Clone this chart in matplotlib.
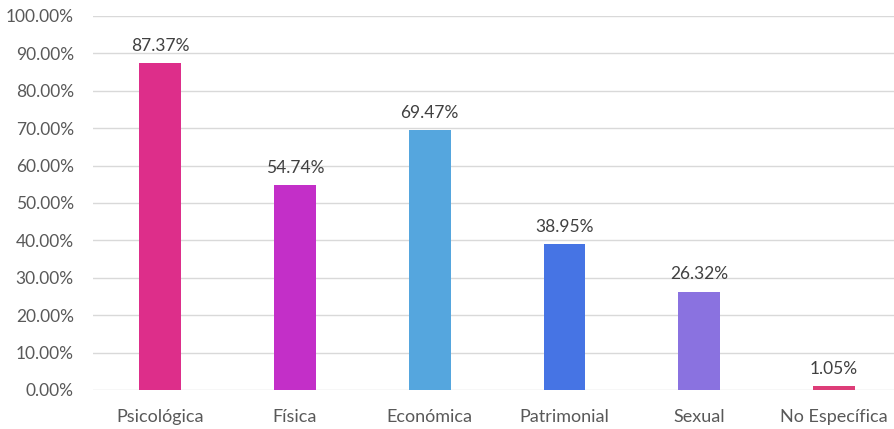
import matplotlib
matplotlib.use("Agg")
import matplotlib.pyplot as plt
from matplotlib.ticker import FuncFormatter

categories = ["Psicológica", "Física", "Económica", "Patrimonial", "Sexual", "No Específica"]
values = [87.37, 54.74, 69.47, 38.95, 26.32, 1.05]
colors = ["#DD2E8A", "#C32FC8", "#55A6DE", "#4674E4", "#8A72E0", "#DD3D78"]
yticks = [0, 10, 20, 30, 40, 50, 60, 70, 80, 90, 100]

plt.rcParams['font.family'] = ['Lato', 'DejaVu Sans']

fig = plt.figure(figsize=(8.94, 4.29), dpi=100)
ax = fig.add_axes([0.1035, 0.091, 0.905, 0.872])

x = list(range(len(categories)))
bars = ax.bar(x, values, width=0.311, color=colors, zorder=3)
for xi, v in zip(x, values):
    ax.text(xi, v + 2.5, f"{v:.2f}%", ha="center", va="bottom", fontsize=12.5, color="#404040")

ax.set_ylim(0, 100)
ax.set_xlim(-0.5, len(categories) - 0.5)
ax.set_yticks(yticks)
ax.yaxis.set_major_formatter(FuncFormatter(lambda v, p: f"{v:.2f}%"))
ax.set_xticks(x)
ax.set_xticklabels(categories)
ax.tick_params(axis="y", length=0, pad=13.5, labelsize=12.5, labelcolor="#595959")
ax.tick_params(axis="x", length=0, pad=14, labelsize=13, labelcolor="#595959")
ax.grid(axis="y", color="#D9D9D9", linewidth=1, zorder=0)
for s in ax.spines.values():
    s.set_visible(False)

fig.savefig("out.png", dpi=100)
